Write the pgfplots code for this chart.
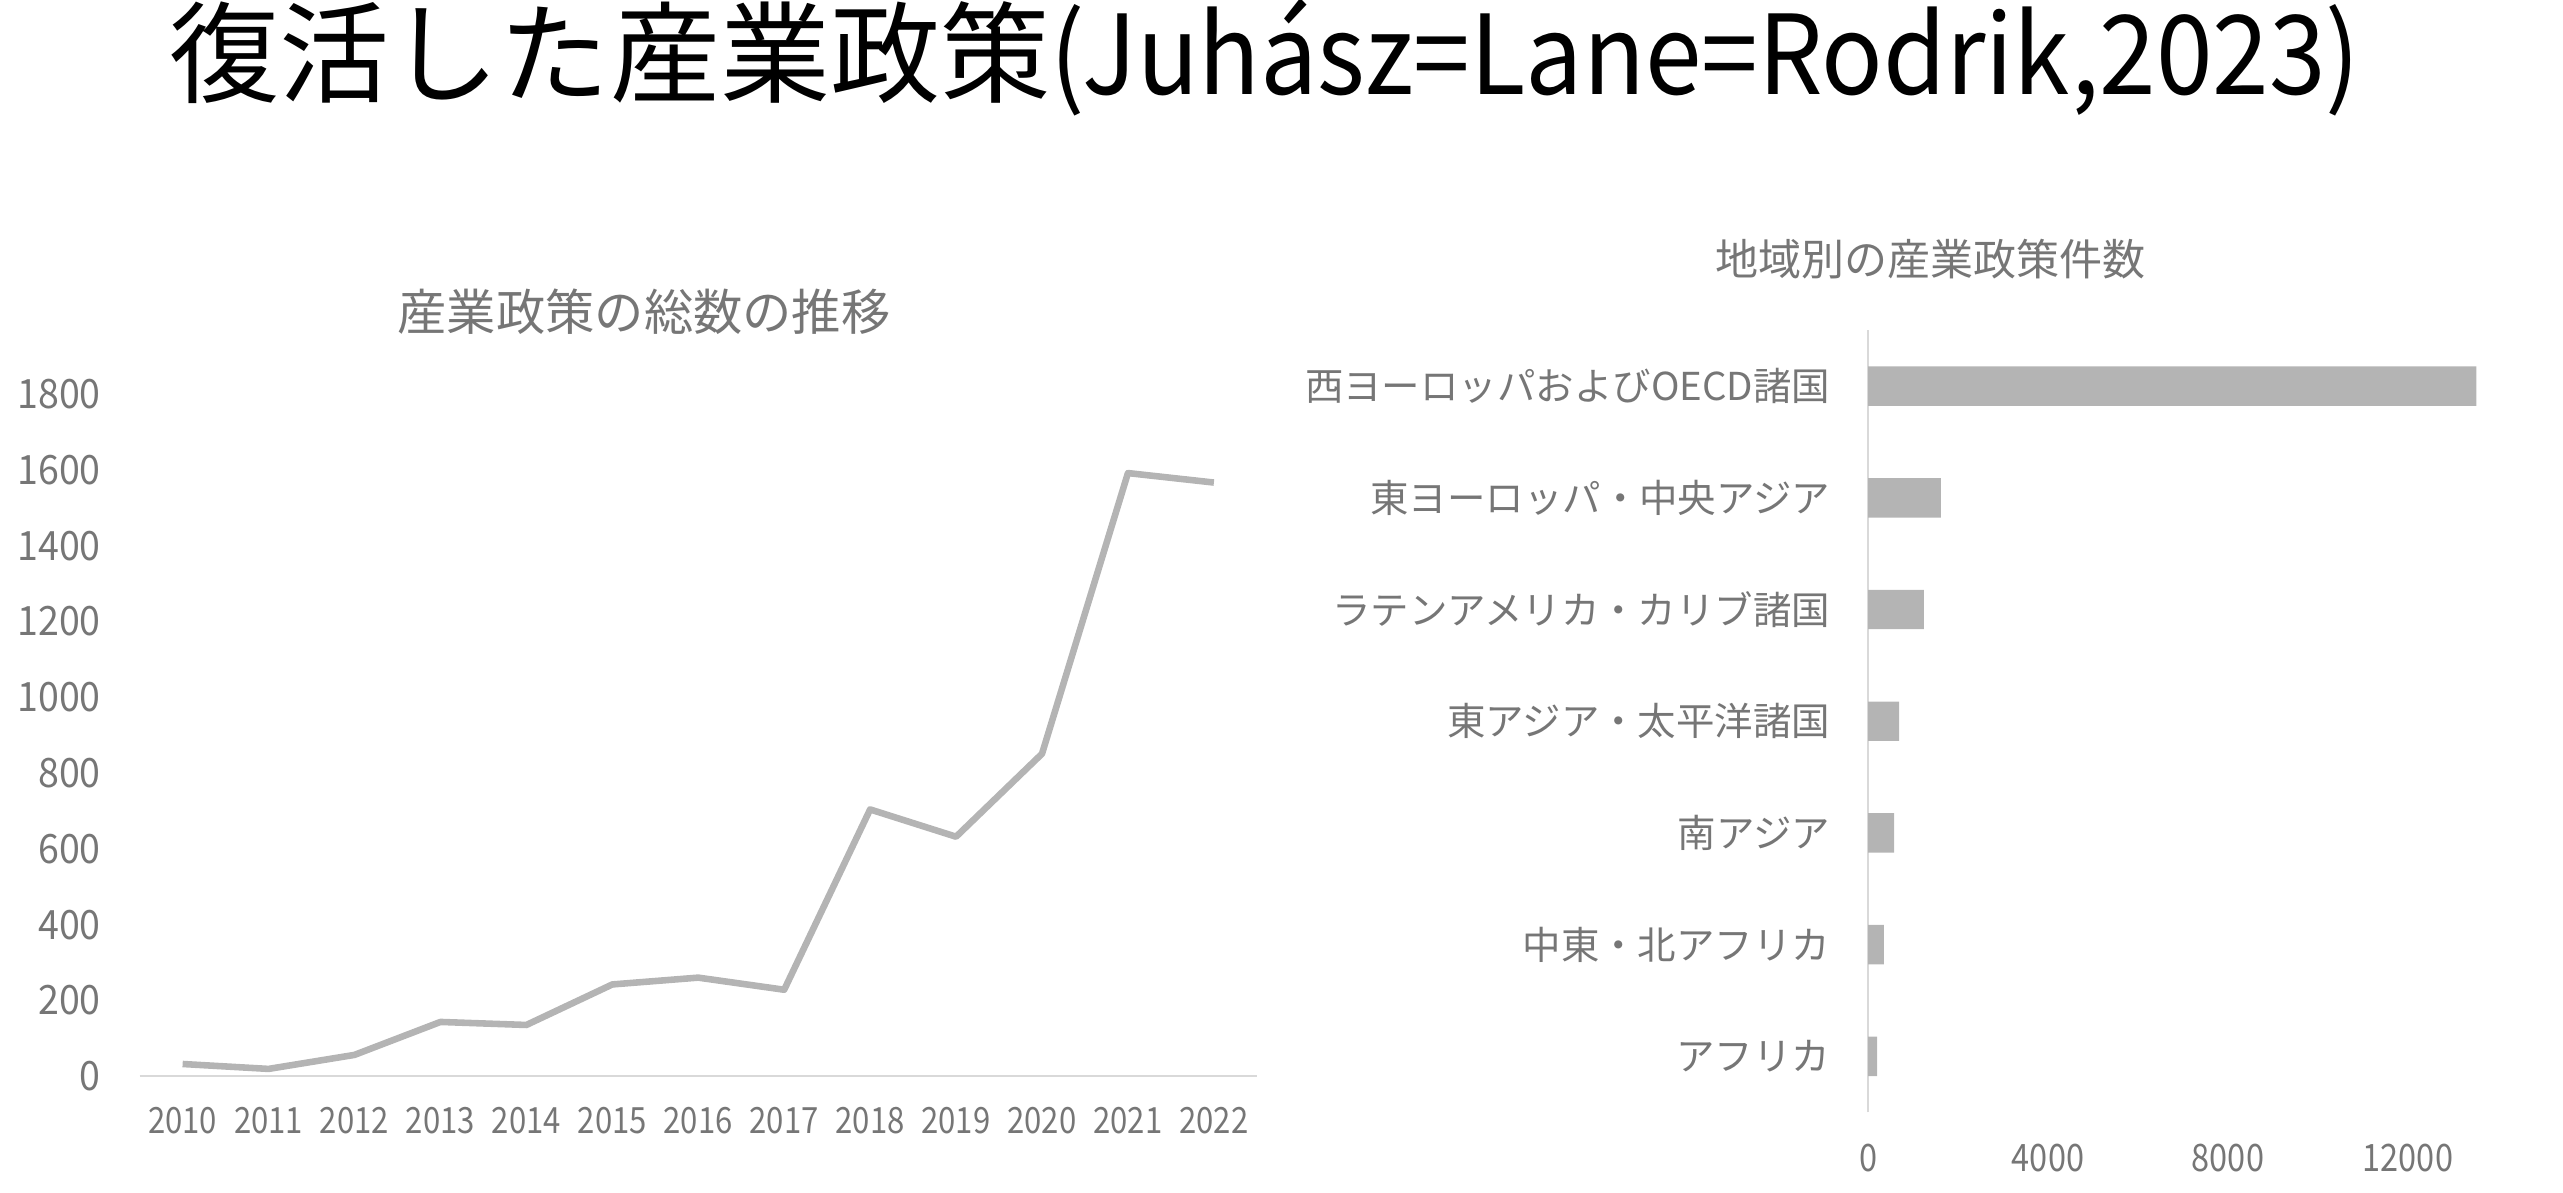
\documentclass[border=0pt]{standalone}
\usepackage{pgfplots}
\pgfplotsset{compat=1.18}
\usepackage{fontspec}
\setmainfont{Noto Sans CJK JP}
\usepackage{graphicx}

\definecolor{lbl}{HTML}{767676}
\definecolor{barc}{HTML}{B4B4B4}
\definecolor{axc}{HTML}{D9D9D9}
\newcommand\nar[1]{\scalebox{0.86}[1]{#1}}

\begin{document}
\begin{tikzpicture}[x=1pt,y=1pt]
\useasboundingbox (0pt,0pt) rectangle (780pt,363pt);
\node at (385pt,345.5pt) {\fontsize{33.5}{40}\selectfont 復活した産業政策\scalebox{0.925}[1]{(Juhász=Lane=Rodrik,2023)}};
\node[text=lbl] at (196pt,268pt) {\fontsize{15}{18}\selectfont 産業政策の総数の推移};
\node[text=lbl] at (587.5pt,284pt) {\fontsize{13.1}{16}\selectfont 地域別の産業政策件数};

% total number of industrial policies
\begin{axis}[
  at={(42.5pt,35.5pt)}, anchor=south west,
  scale only axis, width=340pt, height=207.5pt,
  xmin=2009.5, xmax=2022.5, ymin=0, ymax=1800,
  axis x line*=bottom, axis y line*=left,
  x axis line style={draw=axc, line width=0.75pt},
  y axis line style={draw=none},
  major tick length=0pt,
  xtick={2010,...,2022},
  xticklabels={\nar{2010},\nar{2011},\nar{2012},\nar{2013},\nar{2014},\nar{2015},\nar{2016},\nar{2017},\nar{2018},\nar{2019},\nar{2020},\nar{2021},\nar{2022}},
  ytick={0,200,...,1800},
  yticklabels={\nar{0},\nar{200},\nar{400},\nar{600},\nar{800},\nar{1000},\nar{1200},\nar{1400},\nar{1600},\nar{1800}},
  xticklabel style={font=\fontsize{11}{13}\selectfont, text=lbl, yshift=-6pt},
  yticklabel style={font=\fontsize{12.3}{14}\selectfont, text=lbl, xshift=-8pt, xscale=1.08},
  clip=false,
]
\addplot[color=barc, line width=2pt, line join=round] coordinates {
  (2010,32) (2011,19) (2012,56) (2013,143) (2014,135) (2015,242) (2016,260)
  (2017,228) (2018,704) (2019,632) (2020,851) (2021,1592) (2022,1567)};
\end{axis}

% by region
\begin{axis}[
  at={(568.5pt,24.5pt)}, anchor=south west,
  scale only axis, width=191.7pt, height=238pt,
  xbar, bar width=12pt,
  xmin=0, xmax=14000, ymin=-0.5, ymax=6.5,
  scaled x ticks=false,
  axis x line*=bottom, axis y line*=left,
  y axis line style={draw=axc, line width=0.75pt},
  x axis line style={draw=none},
  major tick length=0pt,
  ytick={0,...,6},
  yticklabels={アフリカ,中東・北アフリカ,南アジア,東アジア・太平洋諸国,ラテンアメリカ・カリブ諸国,東ヨーロッパ・中央アジア,西ヨーロッパおよびOECD諸国},
  xtick={0,4000,8000,12000},
  xticklabels={\nar{0},\nar{4000},\nar{8000},\nar{12000}},
  xticklabel style={font=\fontsize{11.5}{13}\selectfont, text=lbl, yshift=-6pt},
  yticklabel style={font=\fontsize{11.7}{14}\selectfont, text=lbl, xshift=-8pt},
]
\addplot[fill=barc, draw=none] coordinates {
  (200,0) (350,1) (580,2) (690,3) (1240,4) (1620,5) (13520,6)};
\end{axis}
\end{tikzpicture}
\end{document}
